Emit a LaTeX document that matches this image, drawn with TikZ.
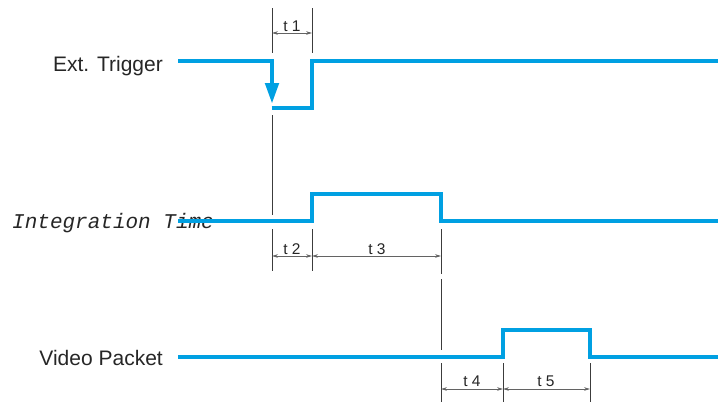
\documentclass[tikz,border=0pt]{standalone}
\usepackage{fontspec}
\setmainfont{Liberation Sans}
\newfontfamily\monoit{Liberation Mono}
\usetikzlibrary{arrows.meta}
\definecolor{sigblue}{RGB}{0,160,226}
\definecolor{dimgray}{RGB}{60,60,60}
\begin{document}
\begin{tikzpicture}[x=1pt,y=-1pt,
  signal/.style={draw=sigblue,line width=4.6pt,line join=miter},
  extline/.style={draw=dimgray,line width=1pt},
  dimline/.style={draw=dimgray!80,line width=0.8pt,{Stealth[length=6pt,width=3.6pt]}-{Stealth[length=6pt,width=3.6pt]}},
  sigtext/.style={font=\fontsize{21}{24}\selectfont,text=black!85,inner sep=0pt},
  tlabel/.style={font=\fontsize{15.5}{18}\selectfont,text=black!85,inner sep=0pt,anchor=base}]
\useasboundingbox (0,0) rectangle (728,402);

% signal labels
\node[sigtext,anchor=base east] (lext) at (163,71) {Ext. Trigger};
\node[sigtext,anchor=base west,font=\monoit\itshape\fontsize{21}{24}\selectfont] (lint) at (12,228) {Integration Time};
\node[sigtext,anchor=base east] (lvid) at (163,365) {Video Packet};

% coordinates
\coordinate (a0) at (178,61);
\coordinate (a1) at (272,61);
\coordinate (a2) at (272,104);
\coordinate (a3) at (272,108);
\coordinate (a4) at (312,108);
\coordinate (a5) at (312,61);
\coordinate (a6) at (718,61);

\coordinate (b0) at (178,221);
\coordinate (b1) at (312,221);
\coordinate (b2) at (312,194);
\coordinate (b3) at (441,194);
\coordinate (b4) at (441,221);
\coordinate (b5) at (718,221);

\coordinate (c0) at (178,357);
\coordinate (c1) at (503,357);
\coordinate (c2) at (503,330);
\coordinate (c3) at (590,330);
\coordinate (c4) at (590,357);
\coordinate (c5) at (718,357);

% signals
\draw[signal] (a0) -- ([xshift=2.3pt]a1);
\draw[draw=sigblue,line width=4.6pt,-{Triangle[length=21pt,width=13pt]}] (a1) -- (a2);
\draw[signal] ([xshift=-0.5pt]a3) -- (a4) -- (a5) -- (a6);
\draw[signal] (b0) -- (b1) -- (b2) -- (b3) -- (b4) -- (b5);
\draw[signal] (c0) -- (c1) -- (c2) -- (c3) -- (c4) -- (c5);

% extension lines
\coordinate (e1t) at (272,8);   \coordinate (e1b) at (272,53);
\coordinate (e2t) at (312,8);   \coordinate (e2b) at (312,53);
\draw[extline] (e1t) -- (e1b);
\draw[extline] (e2t) -- (e2b);
\coordinate (e3t) at (272,115); \coordinate (e3b) at (272,215);
\draw[extline] (e3t) -- (e3b);
\coordinate (f1t) at (272,229); \coordinate (f1b) at (272,271);
\coordinate (f2t) at (312,229); \coordinate (f2b) at (312,271);
\coordinate (f3t) at (441,229); \coordinate (f3b) at (441,274);
\draw[extline] (f1t) -- (f1b);
\draw[extline] (f2t) -- (f2b);
\draw[extline] (f3t) -- (f3b);
\coordinate (f4t) at (441,279); \coordinate (f4b) at (441,350);
\draw[extline] (f4t) -- (f4b);
\coordinate (g1t) at (441,363); \coordinate (g1b) at (441,402);
\coordinate (g2t) at (503,363); \coordinate (g2b) at (503,402);
\coordinate (g3t) at (590,363); \coordinate (g3b) at (590,402);
\draw[extline] (g1t) -- (g1b);
\draw[extline] (g2t) -- (g2b);
\draw[extline] (g3t) -- (g3b);

% dimension arrows
\coordinate (d1a) at (272,33); \coordinate (d1b) at (312,33);
\draw[dimline] (d1a) -- (d1b);
\coordinate (d2a) at (272,256); \coordinate (d2b) at (312,256); \coordinate (d3b) at (441,256);
\draw[dimline] (d2a) -- (d2b);
\draw[dimline] (d2b) -- (d3b);
\coordinate (d4a) at (441,389); \coordinate (d4b) at (503,389); \coordinate (d5b) at (590,389);
\draw[dimline] (d4a) -- (d4b);
\draw[dimline] (d4b) -- (d5b);

% time labels
\node[tlabel] (t1) at (292,31) {t 1};
\node[tlabel] (t2) at (292,254) {t 2};
\node[tlabel] (t3) at (377,254) {t 3};
\node[tlabel] (t4) at (472,386) {t 4};
\node[tlabel] (t5) at (546,386) {t 5};
\end{tikzpicture}
\end{document}
